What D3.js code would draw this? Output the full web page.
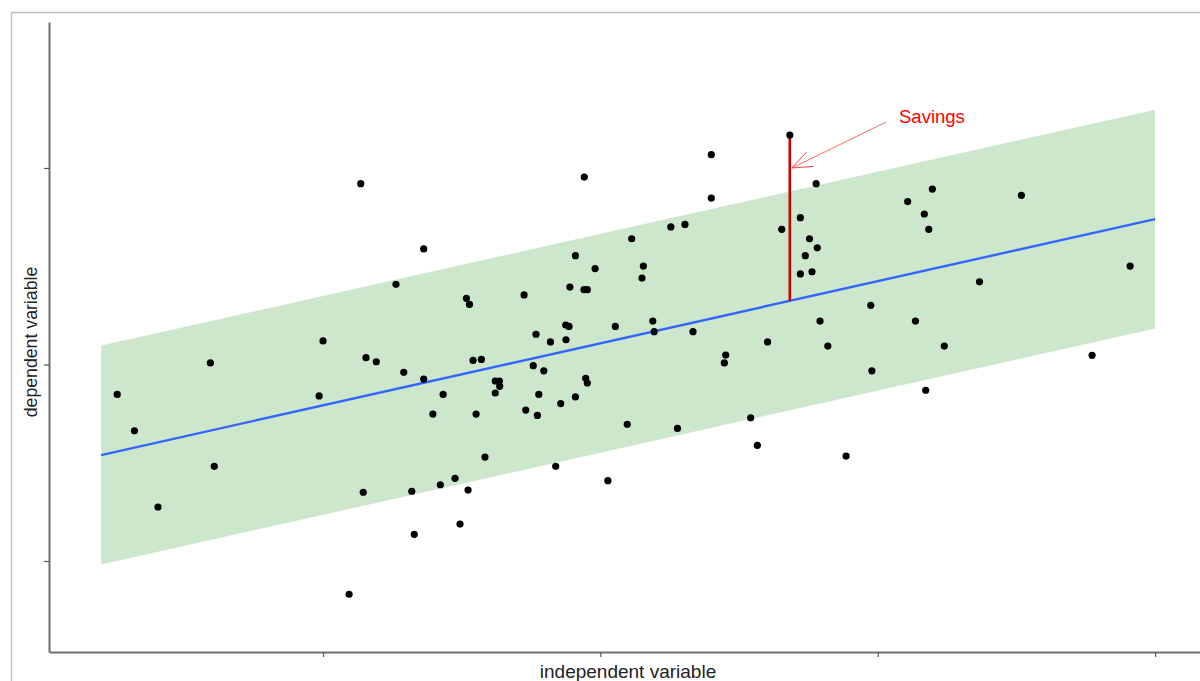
<!DOCTYPE html>
<html>
<head>
<meta charset="utf-8">
<script src="https://cdn.jsdelivr.net/npm/d3@7"></script>
<style>
  body { margin: 0; background: #fff; }
  svg { display: block; font-family: 'Liberation Sans', Arial, sans-serif; }
</style>
</head>
<body>
<svg id="chart" width="1200" height="681"></svg>
<script>
var xs = [11.36, 10.00, 5.94, 2.58, 9.86, 11.55, 3.20, 6.08, 11.45, 4.05,
  10.94, 19.42, 13.63, 19.10, 19.81, 12.63, 18.90, 19.41, 19.53, 17.25,
  15.17, 15.28, 20.54, 18.75, 18.87, 17.68, 18.20, 18.76, 11.92, 15.41,
  15.71, 17.58, 17.96, 12.91, 13.63, 16.21, 16.36, 16.37, 16.21, 19.47,
  19.53, 14.33, 17.78, 19.10, 18.57, 17.31, 13.96, 15.52, 17.73, 15.84,
  18.39, 20.27, 14.76, 14.23, 13.20, 15.23, 14.94, 13.29, 26.83, 24.00,
  24.00, 27.78, 22.54, 23.05, 21.13, 27.21, 26.54, 27.54, 27.82, 27.39,
  21.55, 21.50, 27.21, 27.63, 21.89, 21.94, 23.34, 29.75, 27.92, 26.03,
  28.20, 24.52, 24.47, 29.79, 20.97, 22.78, 25.42, 25.66, 28.86, 31.97,
  31.08, 35.18, 31.68, 31.84, 39.10, 33.67, 31.36, 32.40, 37.73, 31.73];
var ys = [29.20, 21.20, 20.08, 18.48, 18.40, 20.35, 16.63, 14.82, 13.50, 12.75,
  8.31, 29.54, 25.88, 25.54, 24.88, 24.08, 23.94, 23.81, 23.81, 23.54,
  23.37, 23.06, 21.94, 22.01, 21.94, 21.54, 21.15, 21.26, 20.14, 20.21,
  20.26, 19.94, 19.68, 19.60, 19.26, 19.16, 19.16, 18.89, 18.55, 19.30,
  19.06, 18.48, 18.48, 18.35, 18.01, 17.68, 17.48, 17.48, 17.41, 15.29,
  14.82, 14.09, 14.21, 13.88, 13.55, 13.61, 11.88, 11.36, 31.68, 30.68,
  28.47, 29.20, 27.00, 27.13, 26.40, 27.47, 26.88, 26.40, 25.94, 25.54,
  25.01, 24.40, 24.61, 24.72, 22.21, 21.67, 21.67, 23.01, 22.21, 21.15,
  20.94, 20.48, 20.08, 19.68, 16.96, 16.75, 17.29, 15.89, 15.34, 28.93,
  28.29, 28.61, 27.66, 26.88, 25.01, 24.21, 22.21, 20.94, 20.47, 18.69];

// fitted line and its band
var fitRange = [2, 40];
var fitIntercept = 14.76;
var fitSlope = 0.316;
var bandHalf = 5.57;

// the highlighted observation
var savingsIndex = 58;
var savingsLabel = 'Savings';
var arrowFrom = [30.30, 32.34];
var arrowTo = [26.91, 30.0];

var xTicks = [10, 20, 30, 40];
var yTicks = [10, 20, 30];
var xTitle = 'independent variable';
var yTitle = 'dependent variable';

var svg = d3.select('#chart');

var x = d3.scaleLinear().domain([0.12, 41.62]).range([49, 1200]);
var y = d3.scaleLinear().domain([5.37, 37.43]).range([652, 22]);
var fit = function (v) { return fitIntercept + fitSlope * v; };

// outer frame
svg.append('path')
  .attr('d', 'M11.5,681V12.5H1200')
  .attr('fill', 'none')
  .attr('stroke', '#bdbdbd')
  .attr('stroke-width', 1.3);

// band
var area = d3.area()
  .x(d => x(d))
  .y0(d => y(fit(d) - bandHalf))
  .y1(d => y(fit(d) + bandHalf));
svg.append('path')
  .datum(fitRange)
  .attr('d', area)
  .attr('fill', '#cce7cc');

// fitted line
svg.append('path')
  .datum(fitRange)
  .attr('d', d3.line().x(d => x(d)).y(d => y(fit(d))))
  .attr('fill', 'none')
  .attr('stroke', '#3366ff')
  .attr('stroke-width', 2.4);

// savings segment
var sx = xs[savingsIndex], sy = ys[savingsIndex];
svg.append('line')
  .attr('x1', x(sx)).attr('x2', x(sx))
  .attr('y1', y(sy)).attr('y2', y(fit(sx)))
  .attr('stroke', '#cc0000')
  .attr('stroke-width', 2.6);

// points
svg.append('g')
  .selectAll('circle')
  .data(d3.range(xs.length))
  .enter().append('circle')
    .attr('cx', i => x(xs[i]))
    .attr('cy', i => y(ys[i]))
    .attr('r', 3.6)
    .attr('fill', '#000');

// annotation arrow
svg.append('defs').append('marker')
  .attr('id', 'head')
  .attr('viewBox', '0 0 20 20')
  .attr('refX', 20).attr('refY', 10)
  .attr('markerWidth', 20).attr('markerHeight', 20)
  .attr('markerUnits', 'userSpaceOnUse')
  .attr('orient', 'auto')
  .append('path')
    .attr('d', 'M0,2L20,10L0,18')
    .attr('fill', 'none')
    .attr('stroke', '#ff2a2a')
    .attr('stroke-width', 0.8);

svg.append('line')
  .attr('x1', x(arrowFrom[0])).attr('y1', y(arrowFrom[1]))
  .attr('x2', x(arrowTo[0])).attr('y2', y(arrowTo[1]))
  .attr('stroke', '#ff2a2a')
  .attr('stroke-width', 0.7)
  .attr('marker-end', 'url(#head)');

svg.append('text')
  .attr('x', x(arrowFrom[0]) + 13)
  .attr('y', y(arrowFrom[1]) + 1)
  .attr('fill', '#ff0000')
  .attr('font-size', 18.5)
  .text(savingsLabel);

// axes
var xAxis = d3.axisBottom(x).tickValues(xTicks).tickFormat('').tickSize(5).tickSizeOuter(0);
var yAxis = d3.axisLeft(y).tickValues(yTicks).tickFormat('').tickSize(5).tickSizeOuter(0);

var gx = svg.append('g').attr('transform', 'translate(0,652)').call(xAxis);
var gy = svg.append('g').attr('transform', 'translate(49,0)').call(yAxis);
[gx, gy].forEach(g => {
  g.select('.domain').attr('stroke', '#6e6e6e').attr('stroke-width', 2);
  g.selectAll('.tick line').attr('stroke', '#555').attr('stroke-width', 1.2);
});

svg.append('text')
  .attr('x', 628).attr('y', 678)
  .attr('text-anchor', 'middle')
  .attr('font-size', 19)
  .attr('fill', '#222')
  .text(xTitle);

svg.append('text')
  .attr('transform', 'translate(37,342) rotate(-90)')
  .attr('text-anchor', 'middle')
  .attr('font-size', 17.7)
  .attr('fill', '#222')
  .text(yTitle);
</script>
</body>
</html>
